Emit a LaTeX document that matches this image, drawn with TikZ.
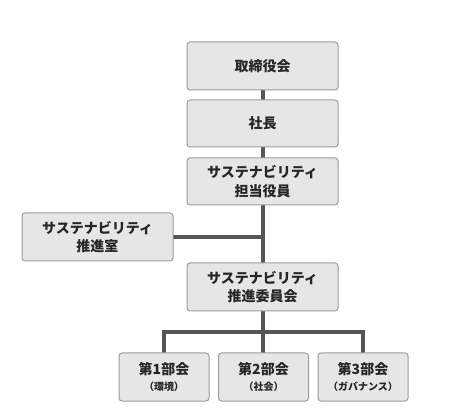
\documentclass[tikz,border=0pt]{standalone}
\usepackage{fontspec}
\newfontfamily\jp{Noto Sans CJK JP}
\definecolor{boxfill}{HTML}{E6E6E6}
\definecolor{boxline}{HTML}{9C9C9C}
\definecolor{conn}{HTML}{555555}
\definecolor{txt}{HTML}{262626}
\begin{document}
\begin{tikzpicture}[x=1pt,y=-1pt,
  box/.style={draw=boxline,fill=boxfill,line width=1pt,rounded corners=3pt,
    minimum width=151pt,minimum height=48pt,align=center,inner sep=0pt,
    text=txt,font=\jp\bfseries\fontsize{14}{18.5}\selectfont},
  small/.style={box,minimum width=90pt},
  link/.style={draw=conn,line width=3.2pt}]
\useasboundingbox (0,0) rectangle (453,414);
\fill[white] (0,0) rectangle (453,414);
\coordinate (bar) at (263,332);
\draw[link] (263,66) -- (263,123);
\draw[link] (263,123) -- (263,287);
\draw[link] (97,237) -- (263,237);
\draw[link] (263,287) -- (bar);
\draw[link] (164,377) |- (bar) -| (363,377);
\draw[link] (bar) -- (263,377);
\node[box] (n1) at (262.5,66) {取締役会};
\node[box,minimum height=47pt] (n2) at (262.5,123.5) {社長};
\node[box,minimum height=47pt] (n3) at (262.5,181.5) {サステナビリティ\\担当役員};
\node[box] (n4) at (97.5,237) {サステナビリティ\\推進室};
\node[box] (n5) at (262.5,287) {サステナビリティ\\推進委員会};
\node[small] (a) at (164,377) {第1部会\\[-2pt]{\fontsize{10}{12}\selectfont（環境）}};
\node[small] (b) at (263.5,377) {第2部会\\[-2pt]{\fontsize{10}{12}\selectfont（社会）}};
\node[small] (c) at (363,377) {第3部会\\[-2pt]{\fontsize{10}{12}\selectfont（ガバナンス）}};
\end{tikzpicture}
\end{document}
